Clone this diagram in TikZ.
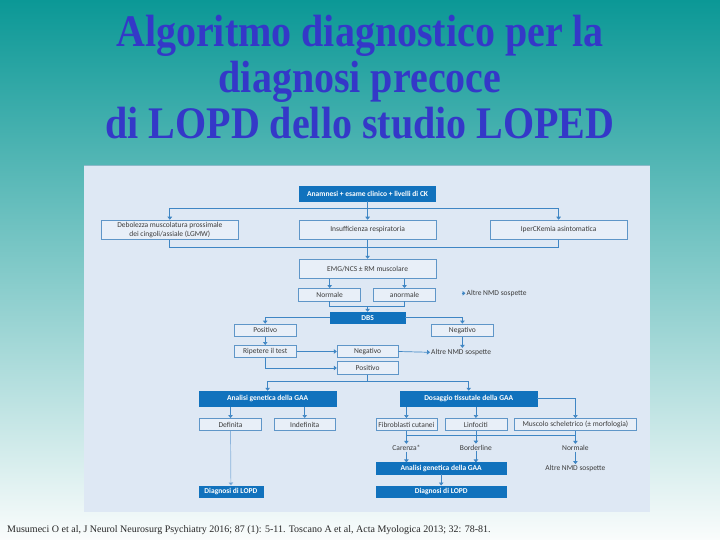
\documentclass[tikz,border=0pt]{standalone}
\usepackage{fontspec}
\setmainfont{Liberation Serif}
\newfontfamily\dfont{Carlito}
\usetikzlibrary{arrows.meta}
\definecolor{bgtop}{RGB}{11,152,150}
\definecolor{bgmid}{RGB}{178,216,215}
\definecolor{bgbot}{RGB}{250,252,252}
\definecolor{panel}{RGB}{222,232,244}
\definecolor{panelline}{RGB}{140,185,200}
\definecolor{boxline}{RGB}{95,150,200}
\definecolor{boxfill}{RGB}{232,239,248}
\definecolor{fillblue}{RGB}{17,114,189}
\definecolor{conn}{RGB}{63,134,196}
\definecolor{connlight}{RGB}{140,180,220}
\definecolor{dtext}{RGB}{60,60,60}
\definecolor{titleblue}{RGB}{52,56,200}
\tikzset{
  obox/.style={draw=boxline, fill=boxfill, line width=0.6pt, inner sep=0pt,
    text=dtext, font=\dfont\fontsize{7.5}{8.5}\selectfont, align=center},
  fbox/.style={draw=fillblue, fill=fillblue, inner sep=0pt,
    text=white, font=\dfont\bfseries\fontsize{7.5}{8.5}\selectfont, align=center},
  lbl/.style={inner sep=1pt, text=dtext, font=\dfont\fontsize{7.5}{8.5}\selectfont},
  ln/.style={draw=conn, line width=0.7pt},
  arr/.style={ln, -{Triangle[width=4.5pt,length=3pt]}},
  arrl/.style={draw=connlight, line width=0.7pt, -{Triangle[width=4.5pt,length=3pt,fill=conn]}},
  ttl/.style={anchor=base, text=titleblue, font=\bfseries\fontsize{40}{46}\selectfont, inner sep=0pt}
}
\begin{document}
\begin{tikzpicture}[x=1pt,y=-1pt]
\useasboundingbox (0,0) rectangle (720,540);
\shade[top color=bgtop, middle color=bgmid, bottom color=bgbot] (0,0) rectangle (720,540);
% title
\node[ttl] (t1) at (360,47) {\scalebox{1.0}[1.13]{Algoritmo diagnostico per la}};
\node[ttl] (t2) at (360,93) {\scalebox{1.0}[1.13]{diagnosi precoce}};
\node[ttl] (t3) at (360,139) {\scalebox{1.0}[1.13]{di LOPD dello studio LOPED}};
% panel
\fill[panel] (84,165) rectangle (650,512);
\draw[panelline, line width=0.8pt] (84,165) -- (650,165);
% nodes
\node[fbox, minimum width=136pt, minimum height=15pt] (anam) at (367.6,193.5) {Anamnesi + esame clinico + livelli di CK};
\node[obox, minimum width=137pt, minimum height=19.5pt] (deb) at (169.8,229.8) {Debolezza muscolatura prossimale\\dei cingoli/assiale (LGMW)};
\node[obox, minimum width=137pt, minimum height=19.5pt] (insuf) at (367.6,229.8) {Insufficienza respiratoria};
\node[obox, minimum width=137pt, minimum height=19.5pt] (iper) at (558.6,229.8) {IperCKemia asintomatica};
\node[obox, minimum width=137pt, minimum height=19.3pt] (emg) at (367.6,268.7) {EMG/NCS ± RM muscolare};
\node[obox, minimum width=62pt, minimum height=12.7pt] (norm1) at (329.7,294.7) {Normale};
\node[obox, minimum width=62pt, minimum height=12.7pt] (anorm) at (404.5,294.7) {anormale};
\node[lbl, anchor=west] (altre1) at (465.5,293.3) {Altre NMD sospette};
\coordinate (a1tip) at (465.5,293.3);
\node[fbox, minimum width=75pt, minimum height=11.7pt] (dbs) at (367.6,317.8) {DBS};
\node[obox, minimum width=62pt, minimum height=12.7pt] (pos1) at (265.2,330.3) {Positivo};
\node[obox, minimum width=62pt, minimum height=12.7pt] (neg1) at (462.4,330.3) {Negativo};
\node[obox, minimum width=62pt, minimum height=12.4pt] (rip) at (265.2,351.5) {Ripetere il test};
\node[obox, minimum width=61pt, minimum height=12.4pt] (neg2) at (367.6,351.5) {Negativo};
\node[lbl, anchor=west] (altre2) at (430,352.3) {Altre NMD sospette};
\node[obox, minimum width=61pt, minimum height=12.6pt] (pos2) at (367.6,368) {Positivo};
\node[fbox, minimum width=137pt, minimum height=15.7pt] (gen1) at (267.6,398.8) {Analisi genetica della GAA};
\node[fbox, minimum width=136.6pt, minimum height=15.7pt] (dos) at (468.7,398.8) {Dosaggio tissutale della GAA};
\node[obox, minimum width=62.5pt, minimum height=12.4pt] (def) at (230.5,424.5) {Definita};
\node[obox, minimum width=61.5pt, minimum height=12.4pt] (indef) at (304.7,424.5) {Indefinita};
\node[fbox, minimum width=63.8pt, minimum height=11pt] (diag1) at (230.9,491.2) {Diagnosi di LOPD};
\node[obox, minimum width=61pt, minimum height=12.4pt] (fib) at (406.4,424.5) {Fibroblasti cutanei};
\node[obox, minimum width=61.8pt, minimum height=12.4pt] (linf) at (475.9,424.5) {Linfociti};
\node[obox, minimum width=121.4pt, minimum height=12.4pt] (musc) at (575.4,424.5) {Muscolo scheletrico (± morfologia)};
\node[lbl] (car) at (406.4,447.7) {Carenza*};
\node[lbl] (bord) at (475.9,447.5) {Borderline};
\node[lbl] (norm2) at (575.4,447.7) {Normale};
\node[fbox, minimum width=130.8pt, minimum height=11.3pt] (gen2) at (441.2,468.3) {Analisi genetica della GAA};
\node[lbl] (altre3) at (575.4,468.5) {Altre NMD sospette};
\node[fbox, minimum width=130.8pt, minimum height=11pt] (diag2) at (441.2,491.2) {Diagnosi di LOPD};
% connectors
\coordinate (j1) at (367.6,208.6);
\draw[ln] (anam.south) -- (j1);
\draw[arr] (j1) -| (deb.north);
\draw[arr] (j1) -- (insuf.north);
\draw[arr] (j1) -| (iper.north);
\coordinate (j2) at (367.6,247.3);
\draw[ln] (deb.south) |- (j2);
\draw[ln] (iper.south) |- (j2);
\draw[arr] (insuf.south) -- (emg.north);
\draw[arr] (norm1.north |- emg.south) -- (norm1.north);
\draw[arr] (anorm.north |- emg.south) -- (anorm.north);
\draw[arr] ([xshift=-4pt]a1tip) -- (a1tip);
\coordinate (j3) at (367.6,306.7);
\draw[ln] (norm1.south) |- (j3);
\draw[ln] (anorm.south) |- (j3);
\draw[arr] (j3) -- (dbs.north);
\draw[arr] (dbs.west) -| (pos1.north);
\draw[arr] (dbs.east) -| (neg1.north);
\draw[arr] (pos1.south) -- (rip.north);
\draw[arr] (neg1.south) -- (neg1.south |- altre2.north);
\draw[arr] (rip.east) -- (neg2.west);
\draw[arr] (neg2.east) -- (altre2.west);
\draw[arr] (rip.south) |- (pos2.west);
\coordinate (j4) at (367.6,381.7);
\draw[ln] (pos2.south) -- (j4);
\draw[arr] (j4) -| (gen1.north);
\draw[arr] (j4) -| (dos.north);
\draw[arr] (def.north |- gen1.south) -- (def.north);
\draw[arr] (indef.north |- gen1.south) -- (indef.north);
\draw[arrl] (def.south) -- (diag1.north);
\draw[arr] (fib.north |- dos.south) -- (fib.north);
\draw[arr] (linf.north |- dos.south) -- (linf.north);
\draw[arr] (dos.east) -| (musc.north);
\coordinate (j5a) at (406.4,435.7);
\coordinate (j5b) at (475.9,435.7);
\coordinate (j5c) at (575.4,435.7);
\draw[ln] (fib.south) -- (j5a) -- (j5c);
\draw[ln] (linf.south) -- (j5b);
\draw[ln] (musc.south) -- (j5c);
\draw[arr] (j5a) -- (car.north);
\draw[arr] (j5b) -- (bord.north);
\draw[arr] (j5c) -- (norm2.north);
\draw[arr] (car.south) -- (car.south |- gen2.north);
\draw[arr] (bord.south) -- (bord.south |- gen2.north);
\draw[arr] (norm2.south) -- (altre3.north);
\draw[arr] (gen2.south) -- (diag2.north);
% footer
\node[anchor=base west, inner sep=0pt, text=black!85, font=\fontsize{10}{11}\selectfont] (foot) at (7,532) {Musumeci O et al, J Neurol Neurosurg Psychiatry 2016; 87 (1): 5-11. Toscano A et al, Acta Myologica 2013; 32: 78-81.};
\end{tikzpicture}
\end{document}
